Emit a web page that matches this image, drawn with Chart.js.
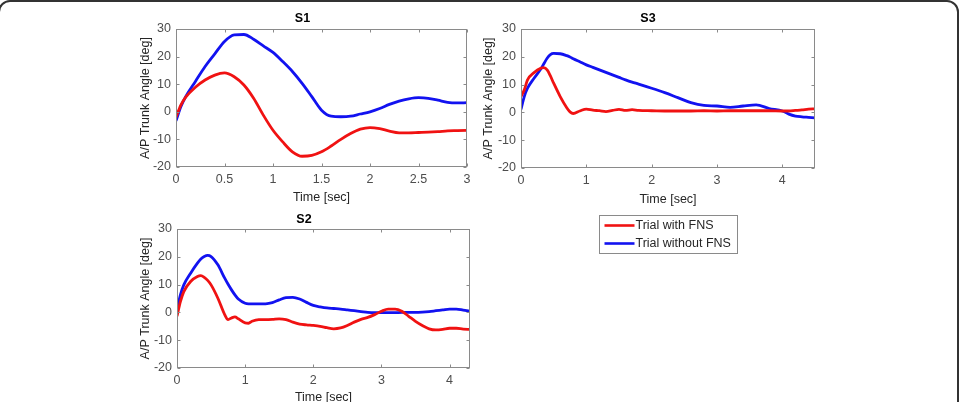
<!DOCTYPE html>
<html>
<head>
<meta charset="utf-8">
<script src="https://cdn.jsdelivr.net/npm/chart.js@4/dist/chart.umd.min.js"></script>
<style>
  html, body { margin: 0; padding: 0; background: #fff; width: 959px; height: 402px; overflow: hidden; position: relative; }
  .frame { position: absolute; left: -2px; top: 0; width: 961px; height: 440px; border: 2px solid #333; border-radius: 12px; box-sizing: border-box; }
  canvas { position: absolute; }
</style>
</head>
<body>
<div class="frame"></div>
<canvas id="s1" width="339" height="205" style="left:138px;top:0px;"></canvas>
<canvas id="s3" width="344" height="260" style="left:481px;top:0px;"></canvas>
<canvas id="s2" width="342" height="205" style="left:138px;top:200px;"></canvas>
<script>
// series labels
const seriesLabels = ['Trial with FNS', 'Trial without FNS'];
const yTicks = [-20, -10, 0, 10, 20, 30];

// S1
const s1Time = [0, 0.05, 0.1, 0.2, 0.3, 0.4, 0.5, 0.6, 0.7, 0.8, 0.9, 1.0, 1.1, 1.2, 1.3, 1.4, 1.5, 1.6, 1.7, 1.8, 1.9, 2.0, 2.1, 2.2, 2.3, 2.4, 2.5, 2.6, 2.7, 2.8, 2.9, 3.0];
const s1With = [-2, 2.4, 5.3, 8.9, 11.5, 13.3, 14.1, 12.7, 9.7, 4.9, -1.2, -6.7, -10.9, -14.5, -16.1, -15.8, -14.5, -12.4, -10, -7.9, -6.3, -5.7, -6.1, -7, -7.6, -7.6, -7.5, -7.4, -7.2, -6.9, -6.8, -6.7];
const s1Without = [-3.3, 1.8, 5.5, 11, 16.4, 21, 25.5, 27.9, 28, 26.3, 23.9, 21.5, 18.2, 14.6, 10.3, 5.5, 0.6, -1.6, -1.8, -1.6, -0.8, 0, 1.2, 2.7, 3.9, 4.7, 5.1, 4.9, 4.2, 3.4, 3.2, 3.3];

// S3
const s3Time = [0, 0.05, 0.1, 0.2, 0.3, 0.35, 0.4, 0.45, 0.5, 0.6, 0.7, 0.75, 0.8, 0.9, 1.0, 1.1, 1.2, 1.3, 1.4, 1.5, 1.6, 1.7, 1.8, 2.0, 2.2, 2.4, 2.6, 2.8, 3.0, 3.2, 3.4, 3.6, 3.8, 4.0, 4.1, 4.2, 4.3, 4.4, 4.5];
const s3With = [5.7, 8.1, 11.7, 14.3, 15.9, 16.1, 15.3, 13.1, 10.5, 5.7, 1.7, 0.2, -0.4, 0.5, 1.2, 0.8, 0.6, 0.3, 0.7, 1.1, 0.7, 1.0, 0.7, 0.6, 0.5, 0.5, 0.5, 0.6, 0.5, 0.6, 0.6, 0.6, 0.6, 0.5, 0.5, 0.7, 0.9, 1.2, 1.3];
const s3Without = [1.1, 5.7, 8.7, 12.3, 15.5, 17.5, 19.5, 20.8, 21.2, 21.1, 20.4, 19.9, 19.3, 18.2, 17.1, 16.2, 15.3, 14.4, 13.5, 12.6, 11.7, 10.9, 10.2, 8.7, 7.1, 5.3, 3.5, 2.5, 2.3, 1.8, 2.3, 2.7, 1.4, 0.5, -0.6, -1.3, -1.6, -1.8, -2.0];

// S2
const s2Time = [0, 0.05, 0.1, 0.2, 0.3, 0.35, 0.4, 0.45, 0.5, 0.6, 0.7, 0.75, 0.8, 0.85, 0.9, 1.0, 1.05, 1.1, 1.2, 1.3, 1.4, 1.5, 1.6, 1.7, 1.8, 1.9, 2.0, 2.1, 2.2, 2.3, 2.4, 2.5, 2.6, 2.7, 2.8, 2.9, 3.0, 3.1, 3.2, 3.3, 3.4, 3.5, 3.6, 3.7, 3.8, 3.9, 4.0, 4.1, 4.2, 4.3];
const s2With = [-1.4, 3.9, 7.5, 11.1, 12.9, 13.2, 12.6, 11.5, 9.9, 5.1, -0.8, -2.6, -2.0, -1.6, -2.3, -3.8, -3.9, -3.2, -2.6, -2.6, -2.5, -2.3, -2.6, -3.5, -4.2, -4.5, -4.7, -5.0, -5.5, -5.9, -5.6, -4.7, -3.5, -2.5, -1.8, -0.8, 0.4, 1.2, 1.2, 0.4, -1.4, -3.2, -4.7, -5.9, -6.3, -6.1, -5.7, -5.7, -6.0, -6.1];
const s2Without = [1, 6.3, 9.9, 14.1, 17.7, 19.2, 20.1, 20.5, 20.1, 17.1, 12.3, 10.1, 8.1, 6.3, 4.8, 3.3, 3.1, 3.1, 3.1, 3.1, 3.5, 4.5, 5.3, 5.4, 4.8, 3.6, 2.5, 2.0, 1.6, 1.4, 1.2, 0.9, 0.6, 0.3, 0, -0.1, -0.1, -0.1, -0.1, 0, 0, 0, 0.1, 0.3, 0.6, 0.9, 1.2, 1.2, 0.8, 0.4];

const RED = 'rgb(240, 18, 18)';
const BLUE = 'rgb(18, 18, 240)';
const FONT = 'Liberation Sans, Arial, Helvetica, sans-serif';

function pts(t, v) {
    return t.map((x, i) => ({ x: x, y: v[i] }));
}

// MATLAB style axes box with inward ticks
const matlabBox = {
    id: 'matlabBox',
    afterDatasetsDraw(chart) {
        const { ctx, chartArea: a, scales: { x, y } } = chart;
        const L = Math.round(a.left) + 0.5, R = Math.round(a.right) - 0.5;
        const T = Math.round(a.top) + 0.5, B = Math.round(a.bottom) - 0.5;
        ctx.save();
        ctx.strokeStyle = '#8a8a8a';
        ctx.lineWidth = 1;
        ctx.strokeRect(L, T, R - L, B - T);
        ctx.beginPath();
        x.ticks.forEach(t => {
            const px = Math.round(x.getPixelForValue(t.value)) + 0.5;
            ctx.moveTo(px, B); ctx.lineTo(px, B - 3);
            ctx.moveTo(px, T); ctx.lineTo(px, T + 3);
        });
        y.ticks.forEach(t => {
            const py = Math.round(y.getPixelForValue(t.value)) + 0.5;
            ctx.moveTo(L, py); ctx.lineTo(L + 3, py);
            ctx.moveTo(R, py); ctx.lineTo(R - 3, py);
        });
        ctx.stroke();
        ctx.restore();
    }
};

// boxed legend drawn under the S3 axes
const boxLegend = {
    id: 'boxLegend',
    afterDraw(chart, args, opts) {
        if (!opts.show) return;
        const { ctx, chartArea: a } = chart;
        const w = 138, h = 38;
        const left = Math.round((a.left + a.right) / 2 - w / 2) + 0.5;
        const top = Math.round(a.bottom + 47) + 0.5;
        ctx.save();
        ctx.fillStyle = '#fff';
        ctx.fillRect(left, top, w, h);
        ctx.strokeStyle = '#8a8a8a';
        ctx.lineWidth = 1;
        ctx.strokeRect(left, top, w, h);
        ctx.font = '12.5px ' + FONT;
        ctx.textBaseline = 'middle';
        chart.data.datasets.forEach((ds, i) => {
            const yy = top + 10 + i * 18;
            ctx.strokeStyle = ds.borderColor;
            ctx.lineWidth = 2.6;
            ctx.beginPath();
            ctx.moveTo(left + 5, yy);
            ctx.lineTo(left + 35, yy);
            ctx.stroke();
            ctx.fillStyle = '#262626';
            ctx.fillText(ds.label, left + 36, yy);
        });
        ctx.restore();
    }
};

function makeChart(id, title, time, withF, withoutF, xMax, xStep, o) {
    const ctx = document.getElementById(id).getContext('2d');
    return new Chart(ctx, {
        type: 'line',
        data: {
            datasets: [
                { label: seriesLabels[0], data: pts(time, withF), borderColor: RED, borderWidth: 2.8, pointRadius: 0, cubicInterpolationMode: 'monotone', fill: false },
                { label: seriesLabels[1], data: pts(time, withoutF), borderColor: BLUE, borderWidth: 2.8, pointRadius: 0, cubicInterpolationMode: 'monotone', fill: false }
            ]
        },
        options: {
            responsive: false,
            animation: false,
            layout: { padding: { left: 0, right: 10, top: 0, bottom: o.padBottom || 0 } },
            plugins: {
                legend: { display: false },
                tooltip: { enabled: false },
                title: {
                    display: true, text: title, color: '#000',
                    font: { family: FONT, size: 12.5, weight: 'bold', lineHeight: 1.2 },
                    padding: { top: o.titleTop, bottom: o.titleBottom }
                },
                boxLegend: { show: !!o.legend }
            },
            scales: {
                x: {
                    type: 'linear', min: 0, max: xMax,
                    grid: { display: false, drawTicks: false },
                    border: { display: false },
                    ticks: {
                        stepSize: xStep, includeBounds: false, maxRotation: 0, padding: 5,
                        color: '#4d4d4d', font: { family: FONT, size: 12.5 },
                        callback: v => String(Math.round(v * 10) / 10)
                    },
                    title: { display: true, text: 'Time [sec]', color: '#262626', padding: 0, font: { family: FONT, size: 12.5, lineHeight: 1.2 } },
                    afterFit: s => { s.height = o.xHeight; }
                },
                y: {
                    min: -20, max: 30,
                    grid: { display: false, drawTicks: false },
                    border: { display: false },
                    afterBuildTicks: s => { s.ticks = yTicks.map(v => ({ value: v })); },
                    ticks: { padding: 5, color: '#4d4d4d', font: { family: FONT, size: 12.5 } },
                    title: { display: true, text: 'A/P Trunk Angle [deg]', color: '#262626', padding: 0, font: { family: FONT, size: 12.5, lineHeight: 1.2 } },
                    afterFit: s => { s.width = o.yWidth; }
                }
            }
        },
        plugins: [matlabBox, boxLegend]
    });
}

makeChart('s1', 'S1', s1Time, s1With, s1Without, 3, 0.5, { yWidth: 38, xHeight: 38, titleTop: 11.5, titleBottom: 2.5 });
makeChart('s3', 'S3', s3Time, s3With, s3Without, 4.5, 1, { yWidth: 40, xHeight: 39, titleTop: 11.5, titleBottom: 2.5, padBottom: 53, legend: true });
makeChart('s2', 'S2', s2Time, s2With, s2Without, 4.3, 1, { yWidth: 39, xHeight: 37, titleTop: 12.5, titleBottom: 1.5 });
</script>
</body>
</html>
